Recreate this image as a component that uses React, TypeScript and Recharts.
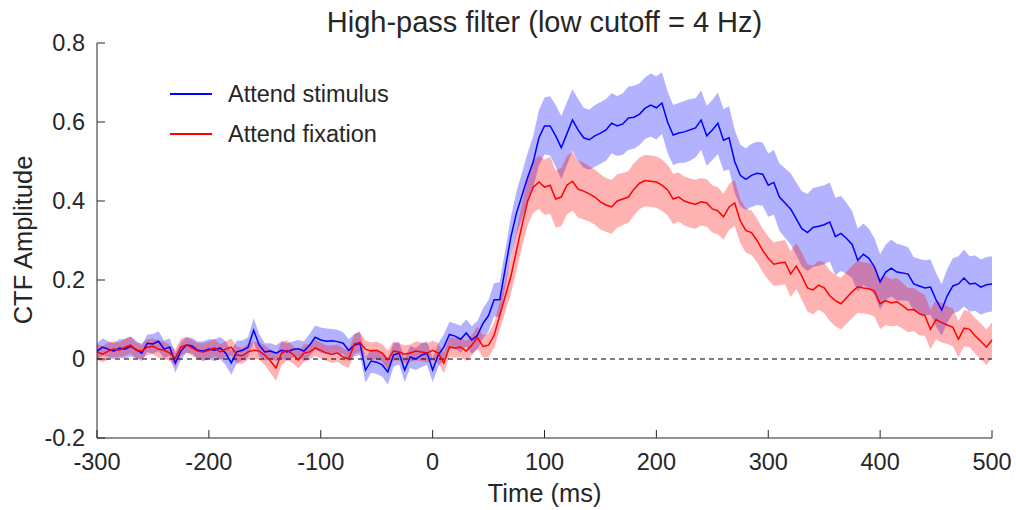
import { Area, ComposedChart, Line, ReferenceLine, XAxis, YAxis } from "recharts";

// sampling grid: -300 .. 500 ms in 5 ms steps (161 samples)
const T_START = -300;
const T_STEP = 5;

const X_TICKS = [-300, -200, -100, 0, 100, 200, 300, 400, 500];
const Y_TICKS = [-0.2, 0, 0.2, 0.4, 0.6, 0.8];

// Attend stimulus (blue): mean and half-width of the shaded band
const stimMean = [
  0.02, 0.03, 0.025, 0.02, 0.028, 0.025, 0.032, 0.024, 0.015, 0.04,
  0.038, 0.045, 0.025, 0.03, -0.01, 0.02, 0.036, 0.033, 0.022, 0.02,
  0.025, 0.022, 0.028, 0.015, -0.01, 0.018, 0.022, 0.03, 0.073, 0.035,
  0.018, 0.02, 0.015, 0.022, 0.018, 0.024, 0.026, 0.02, 0.035, 0.055,
  0.048, 0.045, 0.046, 0.044, 0.04, 0.022, 0.035, 0.04, -0.028, -0.005,
  -0.008, -0.015, -0.033, 0.01, 0.015, -0.028, 0.005, 0.0, 0.01, 0.015,
  -0.028, 0.01, 0.03, 0.062, 0.058, 0.05, 0.066, 0.048, 0.06, 0.09,
  0.11, 0.15, 0.15, 0.23, 0.31, 0.37, 0.415, 0.46, 0.5, 0.56,
  0.59, 0.59, 0.565, 0.535, 0.57, 0.605, 0.58, 0.56, 0.555, 0.565,
  0.572, 0.58, 0.597, 0.59, 0.595, 0.61, 0.612, 0.62, 0.635, 0.643,
  0.636, 0.648, 0.6, 0.567, 0.572, 0.575, 0.58, 0.585, 0.605, 0.565,
  0.58, 0.597, 0.554, 0.56, 0.5, 0.465, 0.455, 0.465, 0.47, 0.468,
  0.44, 0.447, 0.41, 0.395, 0.38, 0.355, 0.33, 0.32, 0.333, 0.336,
  0.34, 0.347, 0.31, 0.318, 0.305, 0.29, 0.25, 0.265, 0.255, 0.233,
  0.195, 0.22, 0.23, 0.22, 0.218, 0.215, 0.19, 0.185, 0.18, 0.182,
  0.15, 0.124, 0.16, 0.185, 0.19, 0.205, 0.19, 0.192, 0.182, 0.188,
  0.19,
];
const stimSem = [
  0.02, 0.022, 0.02, 0.02, 0.022, 0.025, 0.025, 0.022, 0.02, 0.022,
  0.025, 0.025, 0.022, 0.022, 0.025, 0.022, 0.02, 0.02, 0.022, 0.025,
  0.025, 0.028, 0.028, 0.03, 0.03, 0.028, 0.025, 0.025, 0.03, 0.028,
  0.022, 0.02, 0.02, 0.022, 0.022, 0.02, 0.022, 0.025, 0.028, 0.03,
  0.032, 0.032, 0.03, 0.03, 0.028, 0.028, 0.028, 0.03, 0.032, 0.03,
  0.03, 0.03, 0.032, 0.03, 0.028, 0.03, 0.028, 0.028, 0.03, 0.03,
  0.03, 0.03, 0.032, 0.032, 0.032, 0.034, 0.034, 0.035, 0.036, 0.038,
  0.04, 0.042, 0.045, 0.048, 0.05, 0.055, 0.058, 0.062, 0.066, 0.07,
  0.072, 0.075, 0.078, 0.08, 0.08, 0.078, 0.078, 0.076, 0.076, 0.078,
  0.078, 0.078, 0.076, 0.076, 0.078, 0.08, 0.08, 0.078, 0.078, 0.08,
  0.08, 0.078, 0.078, 0.076, 0.076, 0.078, 0.078, 0.075, 0.075, 0.076,
  0.076, 0.078, 0.078, 0.08, 0.08, 0.078, 0.078, 0.08, 0.08, 0.08,
  0.08, 0.082, 0.085, 0.088, 0.09, 0.092, 0.095, 0.098, 0.1, 0.1,
  0.1, 0.1, 0.098, 0.095, 0.09, 0.085, 0.08, 0.078, 0.075, 0.072,
  0.07, 0.07, 0.072, 0.072, 0.07, 0.068, 0.068, 0.068, 0.07, 0.07,
  0.068, 0.065, 0.068, 0.07, 0.07, 0.072, 0.07, 0.07, 0.07, 0.07,
  0.07,
];

// Attend fixation (red)
const fixMean = [
  0.018, 0.012, 0.02, 0.025, 0.022, 0.03, 0.035, 0.022, 0.02, 0.03,
  0.032, 0.025, 0.022, 0.015, 0.002, 0.03, 0.036, 0.028, 0.02, 0.018,
  0.022, 0.028, 0.018, 0.025, 0.03, 0.01, 0.008, 0.018, 0.022, 0.02,
  0.01, -0.005, -0.023, 0.015, 0.022, 0.012, -0.002, 0.015, 0.018, 0.028,
  0.022, 0.015, 0.012, 0.015, 0.005, 0.0, 0.038, 0.042, 0.025, 0.02,
  0.022, 0.015, -0.002, 0.02, 0.018, 0.012, 0.015, 0.02, 0.018, 0.015,
  0.022, 0.015, -0.01, 0.03, 0.028, 0.03, 0.02, 0.035, 0.055, 0.032,
  0.035, 0.06, 0.11, 0.16, 0.21, 0.275, 0.34, 0.4, 0.435, 0.448,
  0.435, 0.44, 0.405, 0.41, 0.44, 0.45, 0.43, 0.425, 0.418, 0.41,
  0.398, 0.39, 0.385, 0.4, 0.405, 0.41, 0.43, 0.445, 0.452, 0.45,
  0.448, 0.44, 0.428, 0.405, 0.41, 0.4, 0.395, 0.392, 0.398, 0.395,
  0.38, 0.375, 0.36, 0.385, 0.395, 0.35, 0.325, 0.32, 0.3, 0.275,
  0.255, 0.24, 0.243, 0.245, 0.215, 0.235, 0.21, 0.18, 0.175, 0.187,
  0.18, 0.16, 0.148, 0.14, 0.155, 0.17, 0.183, 0.18, 0.178, 0.172,
  0.14, 0.148, 0.142, 0.145, 0.135, 0.124, 0.125, 0.115, 0.11, 0.075,
  0.1, 0.092, 0.086, 0.08, 0.05, 0.078, 0.075, 0.058, 0.045, 0.03,
  0.048,
];
const fixSem = [
  0.02, 0.02, 0.022, 0.02, 0.02, 0.022, 0.022, 0.02, 0.02, 0.02,
  0.02, 0.022, 0.022, 0.02, 0.022, 0.022, 0.02, 0.02, 0.02, 0.022,
  0.022, 0.022, 0.02, 0.02, 0.022, 0.022, 0.02, 0.02, 0.022, 0.022,
  0.025, 0.03, 0.032, 0.03, 0.025, 0.022, 0.022, 0.022, 0.02, 0.02,
  0.02, 0.02, 0.022, 0.022, 0.022, 0.022, 0.025, 0.025, 0.022, 0.022,
  0.022, 0.022, 0.024, 0.024, 0.022, 0.022, 0.022, 0.024, 0.024, 0.024,
  0.025, 0.025, 0.026, 0.025, 0.025, 0.025, 0.025, 0.026, 0.028, 0.028,
  0.03, 0.032, 0.035, 0.04, 0.045, 0.05, 0.055, 0.06, 0.065, 0.068,
  0.07, 0.072, 0.072, 0.074, 0.074, 0.074, 0.072, 0.072, 0.07, 0.07,
  0.07, 0.068, 0.068, 0.068, 0.066, 0.066, 0.066, 0.065, 0.065, 0.065,
  0.065, 0.065, 0.064, 0.064, 0.062, 0.062, 0.062, 0.062, 0.06, 0.06,
  0.06, 0.06, 0.058, 0.058, 0.058, 0.056, 0.056, 0.056, 0.055, 0.055,
  0.055, 0.055, 0.056, 0.056, 0.058, 0.058, 0.06, 0.06, 0.062, 0.062,
  0.064, 0.064, 0.065, 0.065, 0.066, 0.066, 0.066, 0.065, 0.065, 0.065,
  0.064, 0.062, 0.06, 0.06, 0.058, 0.056, 0.055, 0.055, 0.052, 0.05,
  0.05, 0.05, 0.048, 0.048, 0.046, 0.046, 0.045, 0.045, 0.045, 0.045,
  0.045,
];

const SERIES = [
  { name: "Attend stimulus", color: "#0000ff" },
  { name: "Attend fixation", color: "#ff0000" },
];

const FONT = "'Liberation Sans', Arial, Helvetica, sans-serif";
const AXIS = "#262626";
const TICK_LEN = 8;
const X_MARGIN = 24;
const Y_MARGIN = 12;

const data = stimMean.map((m, i) => ({
  t: T_START + i * T_STEP,
  stim: m,
  fix: fixMean[i],
  stimBand: [m - stimSem[i], m + stimSem[i]],
  fixBand: [fixMean[i] - fixSem[i], fixMean[i] + fixSem[i]],
}));

function XTick({ x, y, payload }: any) {
  const axisY = y - X_MARGIN;
  return (
    <g>
      <line x1={x} x2={x} y1={axisY} y2={axisY - TICK_LEN} stroke={AXIS} />
      <text x={x} y={y} dy="0.35em" textAnchor="middle" fill={AXIS} fontSize={23.5} fontFamily={FONT}>
        {payload.value}
      </text>
    </g>
  );
}

function YTick({ x, y, payload }: any) {
  const axisX = x + Y_MARGIN;
  return (
    <g>
      <line x1={axisX} x2={axisX + TICK_LEN} y1={y} y2={y} stroke={AXIS} />
      <text x={x} y={y} dy="0.35em" textAnchor="end" fill={AXIS} fontSize={23.5} fontFamily={FONT}>
        {payload.value}
      </text>
    </g>
  );
}

export default function App() {
  return (
    <div style={{ position: "absolute", left: 0, top: 0, width: 1016, height: 510, background: "#fff", fontFamily: FONT, color: AXIS }}>
      <ComposedChart width={1016} height={510} data={data} margin={{ top: 43, right: 24, bottom: 0, left: 0 }}>
        <XAxis
          dataKey="t"
          type="number"
          domain={[-300, 500]}
          ticks={X_TICKS}
          interval={0}
          height={72}
          tickSize={0}
          tickLine={false}
          tickMargin={X_MARGIN}
          tick={XTick}
          axisLine={{ stroke: AXIS }}
        />
        <YAxis
          type="number"
          domain={[-0.2, 0.8]}
          ticks={Y_TICKS}
          interval={0}
          width={97}
          tickSize={0}
          tickLine={false}
          tickMargin={Y_MARGIN}
          tick={YTick}
          axisLine={{ stroke: AXIS }}
        />
        <ReferenceLine y={0} stroke="#000" strokeWidth={1.2} strokeDasharray="5 4" />
        <Area dataKey="stimBand" type="linear" stroke="none" fill={SERIES[0].color} fillOpacity={0.3} isAnimationActive={false} />
        <Area dataKey="fixBand" type="linear" stroke="none" fill={SERIES[1].color} fillOpacity={0.3} isAnimationActive={false} />
        <Line dataKey="stim" type="linear" stroke={SERIES[0].color} strokeWidth={1.5} dot={false} isAnimationActive={false} />
        <Line dataKey="fix" type="linear" stroke={SERIES[1].color} strokeWidth={1.5} dot={false} isAnimationActive={false} />
      </ComposedChart>

      <div style={{ position: "absolute", left: 97, width: 895, top: 8, lineHeight: "29px", fontSize: 29, textAlign: "center" }}>
        High-pass filter (low cutoff = 4 Hz)
      </div>
      <div style={{ position: "absolute", left: 97, width: 895, top: 480, lineHeight: "26px", fontSize: 25.5, textAlign: "center" }}>
        Time (ms)
      </div>
      <div
        style={{
          position: "absolute",
          left: 23 - 150,
          top: 240 - 13,
          width: 300,
          lineHeight: "26px",
          fontSize: 25.5,
          textAlign: "center",
          transform: "rotate(-90deg)",
        }}
      >
        CTF Amplitude
      </div>

      <div style={{ position: "absolute", left: 170, top: 79 }}>
        {SERIES.map((s) => (
          <div key={s.name} style={{ display: "flex", alignItems: "center", height: 30, marginBottom: 10 }}>
            <div style={{ width: 42, height: 2, background: s.color }} />
            <span style={{ marginLeft: 16, fontSize: 23.5, lineHeight: "30px" }}>{s.name}</span>
          </div>
        ))}
      </div>
    </div>
  );
}
